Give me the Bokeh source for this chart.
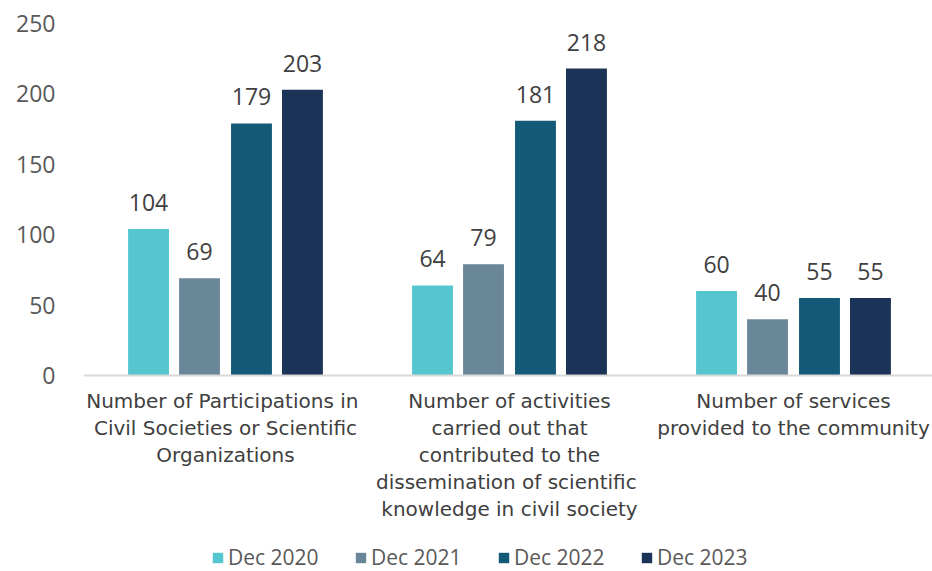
from bokeh.plotting import figure
from bokeh.models import Range1d, FixedTicker, Span, Legend, LegendItem, ColumnDataSource
from bokeh.core.properties import value
from bokeh.embed import file_html
from bokeh.resources import INLINE

categories = [
    "Number of Participations  in\nCivil Societies or Scientific\nOrganizations",
    "Number of activities\ncarried out that\ncontributed to the\ndissemination of  scientific\nknowledge in civil society",
    "Number of services\nprovided to the community",
]
series = ["Dec 2020", "Dec 2021", "Dec 2022", "Dec 2023"]
dec2020 = [104, 64, 60]
dec2021 = [69, 79, 40]
dec2022 = [179, 181, 55]
dec2023 = [203, 218, 55]
y_ticks = [0, 50, 100, 150, 200, 250]

values = [dec2020, dec2021, dec2022, dec2023]
colors = ["#55C6D0", "#6A8799", "#135A78", "#1A3357"]
offsets = [-0.271, -0.0915, 0.0915, 0.271]
bar_w = 0.144

FONT = "Open Sans"
CAT_FONT = "DejaVu Sans"

p = figure(width=932, height=571, output_backend="svg", toolbar_location=None,
           x_range=Range1d(0, 849 / 284), y_range=Range1d(-196 / 1.408, 375 / 1.408),
           min_border_left=83, min_border_right=0, min_border_top=0, min_border_bottom=0)
p.outline_line_color = None
p.xgrid.visible = False
p.ygrid.visible = False
p.xaxis.visible = False

ya = p.yaxis[0]
ya.ticker = FixedTicker(ticks=y_ticks)
ya.axis_line_color = None
ya.major_tick_line_color = None
ya.minor_tick_line_color = None
ya.major_label_text_font_size = "23px"
ya.major_label_text_color = "#595959"
ya.major_label_text_font = FONT
ya.major_label_standoff = 22

p.add_layout(Span(location=0, dimension="width", line_color="#D9D9D9", line_width=2))

idx = [i + 0.5 for i in range(len(categories))]
items = []
for s, vals, col, off in zip(series, values, colors, offsets):
    src = ColumnDataSource(dict(x=[i + off for i in idx], top=vals, lab=[str(v) for v in vals]))
    r = p.vbar(x="x", top="top", bottom=0, width=bar_w, source=src, fill_color=col, line_color=None)
    p.text(x="x", y="top", text="lab", source=src, text_align="center", text_baseline="bottom",
           y_offset=-18, text_font=value(FONT), text_font_size="23px", text_color="#404040")
    items.append(LegendItem(label=s, renderers=[r]))

csrc = ColumnDataSource(dict(x=idx, y=[0] * 3, t=categories))
p.text(x="x", y="y", text="t", source=csrc, text_align="center", text_baseline="top",
       y_offset=13, text_font=value(CAT_FONT), text_font_size="20px", text_color="#404040",
       text_line_height=1.13)

legend = Legend(items=items, orientation="horizontal", location=(128, 0),
                background_fill_alpha=0, border_line_color=None,
                glyph_width=13, glyph_height=13, label_standoff=4, label_width=126, spacing=0,
                padding=0, margin=0,
                label_text_font=FONT, label_text_font_size="21px", label_text_color="#595959")
p.add_layout(legend)

open("out.html", "w").write(file_html(p, INLINE))
